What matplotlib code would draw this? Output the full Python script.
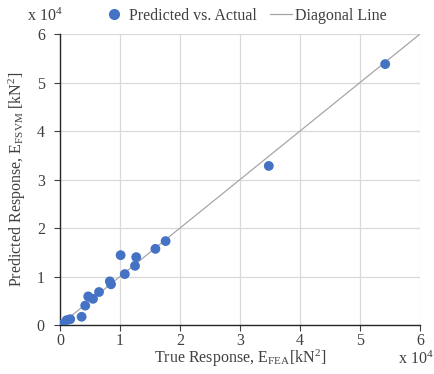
import matplotlib
matplotlib.use("Agg")
import matplotlib.pyplot as plt
from matplotlib.lines import Line2D

plt.rcParams["font.family"] = ["Liberation Serif", "DejaVu Serif"]
plt.rcParams["mathtext.fontset"] = "custom"
plt.rcParams["mathtext.rm"] = "Liberation Serif"
plt.rcParams["mathtext.it"] = "Liberation Serif:italic"

# true vs predicted response, units of 1e4 kN^2
true_resp = [0.00, 0.05, 0.11, 0.17, 0.36, 0.42, 0.47, 0.55, 0.65, 0.83, 0.85,
             1.01, 1.08, 1.25, 1.27, 1.59, 1.76, 3.48, 5.42]
pred_resp = [0.00, 0.02, 0.10, 0.12, 0.17, 0.40, 0.59, 0.54, 0.68, 0.90, 0.84,
             1.44, 1.05, 1.22, 1.40, 1.57, 1.73, 3.28, 5.38]
diag = [0, 6]
ticks = [0, 1, 2, 3, 4, 5, 6]

txt = "#404040"
blue = "#4472C4"
fs = 11.5

fig = plt.figure(figsize=(4.35, 3.74), dpi=100)
ax = fig.add_axes([0.138, 0.131, 0.8275, 0.778])

ax.plot(diag, diag, color="#A6A6A6", lw=0.9, zorder=2)
ax.scatter(true_resp, pred_resp, s=50, color=blue, edgecolors="none", zorder=3)

ax.set_xlim(0, 6)
ax.set_ylim(0, 6)
ax.set_xticks(ticks)
ax.set_yticks(ticks)
ax.grid(True, color="#D9D9D9", lw=0.9, zorder=0)
ax.set_axisbelow(True)
for s in ["top", "right"]:
    ax.spines[s].set_visible(False)
for s in ["left", "bottom"]:
    ax.spines[s].set_color("#262626")
    ax.spines[s].set_linewidth(1.0)
ax.tick_params(colors=txt, labelcolor=txt, labelsize=fs, length=4, direction="out")
ax.tick_params(axis="x", pad=2)
ax.tick_params(axis="y", pad=7)

ax.set_xlabel(r"True Response, E$_{\mathrm{FEA}}$[kN$^2$]", fontsize=fs, color=txt, labelpad=-1)
ax.set_ylabel(r"Predicted Response, E$_{\mathrm{FSVM}}$ [kN$^2$]", fontsize=fs, color=txt, labelpad=6)

fig.text(45 / 435, 1 - 16 / 374, r"x 10$^4$", fontsize=fs, color=txt, ha="center", va="center")
fig.text(416 / 435, 1 - 359 / 374, r"x 10$^4$", fontsize=fs, color=txt, ha="center", va="center")

handles = [
    Line2D([], [], marker="o", ls="none", color=blue, markersize=7, label="Predicted vs. Actual"),
    Line2D([], [], color="#A6A6A6", lw=0.9, label="Diagonal Line"),
]
fig.legend(handles=handles, loc="center", bbox_to_anchor=(245 / 435, 1 - 16 / 374),
           ncol=2, frameon=False, fontsize=fs, labelcolor=txt, handlelength=1.4,
           handletextpad=0.2, columnspacing=0.8)

fig.savefig("out.png", dpi=100)
